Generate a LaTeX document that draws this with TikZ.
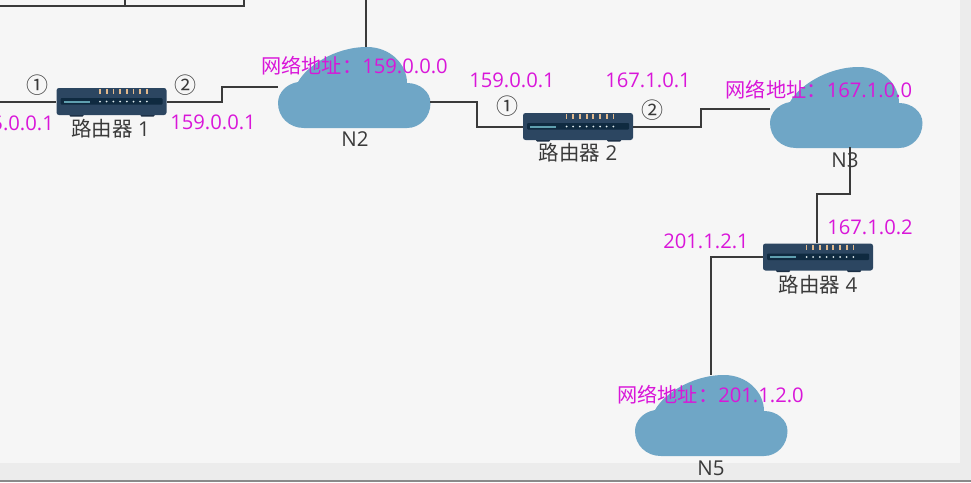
\documentclass[tikz,border=0pt]{standalone}
\usepackage{fontspec}
\setmainfont{Open Sans}
\newfontfamily\cjk{Noto Sans CJK SC}
\definecolor{bgpage}{HTML}{F6F6F6}
\definecolor{bgband}{HTML}{ECECEC}
\definecolor{bgedge}{HTML}{8A8A8A}
\definecolor{cloudblue}{HTML}{6FA6C6}
\definecolor{linkgrey}{HTML}{3A3A3A}
\definecolor{addr}{HTML}{D916D9}
\definecolor{labelgrey}{HTML}{3A3A3A}
\definecolor{routerbody}{HTML}{2C4661}
\definecolor{routerstrip}{HTML}{0F2A40}
\definecolor{routerfoot}{HTML}{1C2F44}
\definecolor{routerbar}{HTML}{5F9FAF}
\definecolor{routerled}{HTML}{E2B98C}
\tikzset{
  x=1pt,y=-1pt,
  link/.style={draw=linkgrey,line width=1.5pt},
  addrtext/.style={text=addr,font=\fontsize{20.2}{22}\selectfont,inner sep=0pt},
  nametext/.style={text=labelgrey,font=\fontsize{20.5}{22}\selectfont,inner sep=0pt},
  marktext/.style={text=labelgrey,font=\cjk\fontsize{22}{24}\selectfont,inner sep=0pt},
  netcloud/.pic={
    \fill[cloudblue] (-56,-19) .. controls (-48,-34) and (-20,-54) .. (13,-54)
      .. controls (36,-54) and (53,-37) .. (53,-18)
      .. controls (66,-18) and (76.5,-9) .. (76.5,2)
      .. controls (76.5,16) and (66,27) .. (53,27)
      -- (-50,27)
      .. controls (-65,27) and (-76,16) .. (-76,2)
      .. controls (-76,-8) and (-68,-17) .. (-56,-19) -- cycle;
    \node[minimum width=152pt,minimum height=81pt,inner sep=0pt] (box) at (0,-13.5) {};
  },
  router/.pic={
    \fill[routerfoot,rounded corners=1pt] (-42,12) rectangle (-28,15);
    \fill[routerfoot,rounded corners=1pt] (29,12) rectangle (43,15);
    \node[fill=routerbody,rounded corners=2.5pt,minimum width=110pt,minimum height=27pt,inner sep=0pt] (box) at (0,0) {};
    \fill[routerstrip,rounded corners=1pt] (-51,-3.5) rectangle (51,3);
    \fill[routerbar] (-48,-1) rectangle (-22,1);
    \foreach \lx in {-11.5,-4.8,1.9,8.6,15.3,22,28.7,35.4}{
      \fill[white!80!routerbar] (\lx,0) circle (1);
      \fill[routerled] (\lx-0.9,-12.5) rectangle (\lx+0.9,-7.5);
    }
  }
}
\begin{document}
\begin{tikzpicture}
\useasboundingbox (0,0) rectangle (971,482);
\fill[bgpage] (0,0) rectangle (971,482);
\fill[bgband] (960,0) rectangle (971,482);
\fill[bgband] (0,463) rectangle (971,482);
\fill[bgedge] (0,480) rectangle (971,482);

\pic (n2) at (354,101) {netcloud};
\pic (n3) at (846,121) {netcloud};
\pic (n5) at (711,429) {netcloud};
\pic (r1) at (111.5,101.5) {router};
\pic (r2) at (578,126.5) {router};
\pic (r4) at (818,257) {router};

\coordinate (topa) at (0,6);
\coordinate (topb) at (244,6);
\coordinate (topc) at (125,0);
\coordinate (topd) at (244,0);
\coordinate (tope) at (366,0);
\coordinate (leftend) at (0,102);
\draw[link] (topa) -- (topb) -- (topd);
\draw[link] (topc) -- (125,6);
\draw[link] (tope) -- (366,47);
\draw[link] (leftend) -- (r1box.west |- leftend);
\draw[link] (r1box.east |- leftend) -- (222,102) -- (222,87) -- (n2box.west |- 0,87);
\draw[link] (n2box.east |- 0,102) -- (477,102) -- (477,127) -- (r2box.west |- 0,127);
\draw[link] (r2box.east |- 0,127) -- (701,127) -- (701,109) -- (n3box.west |- 0,109);
\draw[link] (850,147) -- (850,194) -- (817,194) -- (817,243);
\draw[link] (r4box.west) -- (711,257) -- (711,375);

\node[nametext] (lr1) at (110.5,129) {{\cjk 路由器} 1};
\node[nametext] (lr2) at (578,153) {{\cjk 路由器} 2};
\node[nametext] (lr4) at (818,285) {{\cjk 路由器} 4};
\node[nametext] (ln2) at (355,139) {N2};
\node[nametext] (ln3) at (845,160) {N3};
\node[nametext] (ln5) at (711,468) {N5};

\node[addrtext,anchor=east] (a1) at (54,123) {5.0.0.1};
\node[addrtext] (a2) at (213,122) {159.0.0.1};
\node[addrtext] (a3) at (512,80) {159.0.0.1};
\node[addrtext] (a4) at (648,80) {167.1.0.1};
\node[addrtext] (a5) at (870,227) {167.1.0.2};
\node[addrtext] (a6) at (706,241) {201.1.2.1};
\node[addrtext] (n2addr) at (354.5,66) {{\cjk 网络地址：}159.0.0.0};
\node[addrtext] (n3addr) at (819,90) {{\cjk 网络地址：}167.1.0.0};
\node[addrtext] (n5addr) at (710.5,395) {{\cjk 网络地址：}201.1.2.0};

\node[marktext] (c1) at (38,85) {①};
\node[marktext] (c2) at (185,85) {②};
\node[marktext] (c3) at (507,106) {①};
\node[marktext] (c4) at (652,110) {②};
\end{tikzpicture}
\end{document}
